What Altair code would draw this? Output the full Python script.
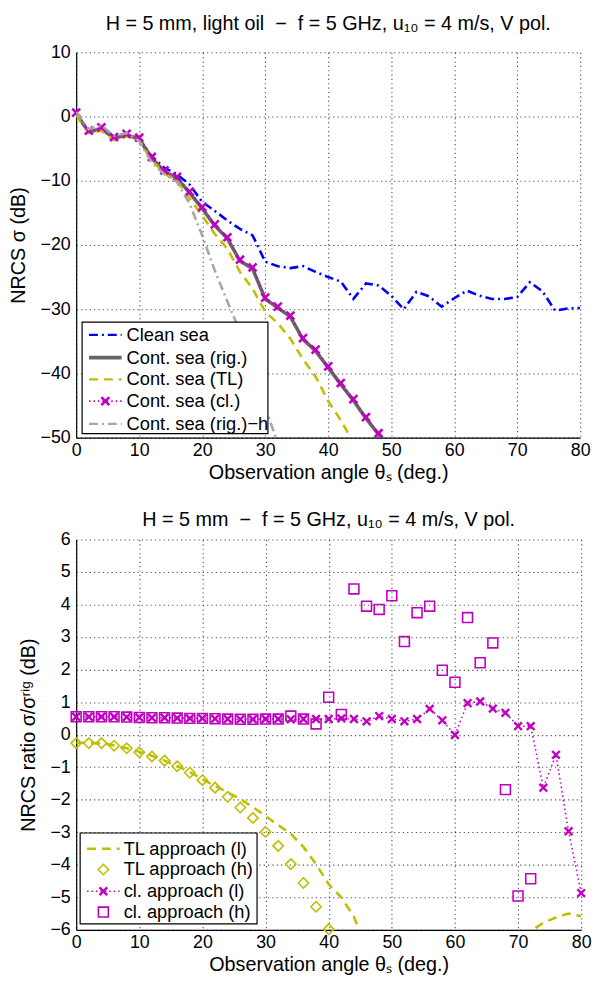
import altair as alt
import pandas as pd

FONT = "Liberation Sans"

# ---------------- data: top panel (NRCS, dB) ----------------
angles_clean = list(range(0, 82, 2))
clean_sea = [0.5, -2.3, -2.0, -3.3, -2.8, -3.5, -6.2, -8.0, -9.0, -10.6, -13.3,
             -14.7, -16.2, -17.5, -18.5, -22.6, -23.3, -23.6, -23.3, -24.2, -25.0,
             -25.7, -28.4, -26.0, -26.3, -27.9, -30.0, -27.3, -28.0, -29.6, -28.3,
             -27.1, -27.9, -28.4, -28.4, -28.1, -25.8, -27.2, -30.2, -29.9, -29.8]

angles_cont = list(range(0, 52, 2))
cont_rig = [0.4, -2.4, -1.9, -3.4, -2.9, -3.5, -6.5, -8.6, -9.6, -11.9, -14.3,
            -17.0, -19.0, -22.5, -23.7, -28.4, -29.8, -31.2, -34.7, -36.5, -39.1,
            -41.7, -44.2, -47.0, -49.5, -52.7]
cont_cl = [0.6, -2.2, -1.7, -3.2, -2.7, -3.3, -6.3, -8.4, -9.4, -11.7, -14.1,
           -16.8, -18.8, -22.3, -23.5, -28.2, -29.6, -31.0, -34.5, -36.3, -38.9,
           -41.5, -44.0, -46.8, -49.3, -52.5]

angles_tl = list(range(0, 46, 2))
cont_tl = [0.2, -2.6, -2.2, -3.7, -3.1, -3.8, -6.8, -8.9, -10.0, -12.8, -15.4,
           -18.3, -20.6, -24.2, -26.8, -30.4, -32.2, -34.6, -37.8, -40.5, -44.3,
           -47.3, -50.8]

angles_righ = list(range(0, 34, 2))
cont_rig_h = [0.7, -2.0, -1.4, -3.0, -2.6, -3.8, -7.2, -9.0, -10.2, -13.6, -18.5,
              -24.0, -28.8, -33.5, -39.3, -45.3, -50.8]

# ---------------- data: bottom panel (ratio, dB) ----------------
angles_bot = list(range(0, 82, 2))
tl_l = [-0.25, -0.26, -0.27, -0.33, -0.42, -0.53, -0.65, -0.80, -0.96, -1.15, -1.37,
        -1.58, -1.78, -1.98, -2.23, -2.50, -2.78, -3.05, -3.45, -3.98, -4.60,
        -5.00, -5.60, -6.60, -7.50, -8.30, -9.00, -9.50, -10.0, -10.3, -10.5,
        -10.4, -10.1, -9.5, -8.5, -7.3, -6.05, -5.78, -5.62, -5.50, -5.58]
cl_l = [0.55, 0.55, 0.55, 0.55, 0.54, 0.53, 0.52, 0.52, 0.51, 0.50, 0.50,
        0.49, 0.48, 0.47, 0.47, 0.48, 0.48, 0.47, 0.48, 0.48, 0.48,
        0.50, 0.48, 0.41, 0.57, 0.48, 0.41, 0.48, 0.79, 0.44, -0.01,
        0.97, 1.02, 0.80, 0.67, 0.26, 0.26, -1.63, -0.62, -2.97, -4.87]

angles_tl_h = list(range(0, 42, 2))
tl_h = [-0.26, -0.26, -0.26, -0.34, -0.42, -0.54, -0.67, -0.80, -0.97, -1.17, -1.40,
        -1.63, -1.91, -2.24, -2.56, -2.99, -3.42, -3.98, -4.56, -5.29, -5.98]

angles_cl_h = list(range(0, 74, 2))
cl_h = [0.55, 0.55, 0.55, 0.55, 0.54, 0.53, 0.52, 0.52, 0.51, 0.50, 0.50,
        0.49, 0.48, 0.47, 0.47, 0.48, 0.48, 0.57, 0.48, 0.33, 1.15,
        0.62, 4.48, 3.95, 3.85, 4.27, 2.86, 3.75, 3.95, 1.98, 1.61,
        3.60, 2.21, 2.82, -1.69, -4.96, -4.43]

# ---------------- styles ----------------
BLUE = "#0000ff"
GRAY = "#666666"
YELLOW = "#bfbf00"
MAGENTA = "#c000c0"
LGRAY = "#a6a6a6"
XSHAPE = "M-1,-1L1,1M-1,1L1,-1"

DASHDOT = [9, 4, 2, 4]
DASH = [9, 6]
DOT = [1.5, 3]


def df(xs, ys):
    return pd.DataFrame({"angle": xs, "val": ys})


def xaxis():
    return alt.Axis(title="Observation angle θₛ (deg.)", values=list(range(0, 81, 10)),
                    format="d", labelPadding=4, titlePadding=3)


def base_enc(ydom, ytitle, yvals):
    x = alt.X("angle:Q", scale=alt.Scale(domain=[0, 80], nice=False, zero=False),
              axis=xaxis())
    y = alt.Y("val:Q", scale=alt.Scale(domain=ydom, nice=False, zero=False),
              axis=alt.Axis(title=ytitle, values=yvals, format="d",
                            labelPadding=6, titlePadding=12))
    return x, y


one = pd.DataFrame({"k": [0]})


def leg_box(x1, x2, y1, y2):
    return alt.Chart(one).mark_rect(fill="white", stroke="black", strokeWidth=1.2).encode(
        x=alt.value(x1), x2=alt.value(x2), y=alt.value(y1), y2=alt.value(y2))


def leg_line(x1, x2, y, color, dash, width):
    kw = dict(color=color, strokeWidth=width)
    if dash:
        kw["strokeDash"] = dash
    return alt.Chart(one).mark_rule(**kw).encode(
        x=alt.value(x1), x2=alt.value(x2), y=alt.value(y))


def leg_point(x, y, shape, color, size, width):
    return alt.Chart(one).mark_point(shape=shape, color=color, size=size, filled=False,
                                     strokeWidth=width, opacity=1).encode(
        x=alt.value(x), y=alt.value(y))


def leg_text(x, y, label):
    return alt.Chart(one).mark_text(align="left", baseline="middle", font=FONT,
                                    fontSize=18.5, color="black").encode(
        x=alt.value(x), y=alt.value(y), text=alt.value(label))


# ---------------- top panel ----------------
xt, yt = base_enc([-50, 10], "NRCS σ (dB)", list(range(-50, 11, 10)))

l_clean = alt.Chart(df(angles_clean, clean_sea)).mark_line(
    color=BLUE, strokeWidth=2.6, strokeDash=DASHDOT, clip=True).encode(x=xt, y=yt)
l_rig = alt.Chart(df(angles_cont, cont_rig)).mark_line(
    color=GRAY, strokeWidth=3.6, clip=True).encode(x=xt, y=yt)
l_tl = alt.Chart(df(angles_tl, cont_tl)).mark_line(
    color=YELLOW, strokeWidth=2.6, strokeDash=DASH, clip=True).encode(x=xt, y=yt)
l_cl = alt.Chart(df(angles_cont, cont_cl)).mark_line(
    color=MAGENTA, strokeWidth=1.6, strokeDash=DOT, clip=True).encode(x=xt, y=yt)
p_cl = alt.Chart(df(angles_cont, cont_cl)).transform_filter("datum.val >= -50").mark_point(
    shape=XSHAPE, color=MAGENTA, size=64, filled=False, strokeWidth=2.6, opacity=1).encode(x=xt, y=yt)
l_righ = alt.Chart(df(angles_righ, cont_rig_h)).mark_line(
    color=LGRAY, strokeWidth=2.6, strokeDash=DASHDOT, clip=True).encode(x=xt, y=yt)

ty = [286, 309, 331, 353, 376]
top_legend = [
    leg_box(6, 194, 273, 386),
    leg_line(13, 46, ty[0], BLUE, DASHDOT, 2.2), leg_text(51, ty[0], "Clean sea"),
    leg_line(13, 46, ty[1], GRAY, None, 3.6), leg_text(51, ty[1], "Cont. sea (rig.)"),
    leg_line(13, 46, ty[2], YELLOW, DASH, 2.4), leg_text(51, ty[2], "Cont. sea (TL)"),
    leg_line(13, 46, ty[3], MAGENTA, DOT, 1.6), leg_point(29.5, ty[3], XSHAPE, MAGENTA, 64, 2.6),
    leg_text(51, ty[3], "Cont. sea (cl.)"),
    leg_line(13, 46, ty[4], LGRAY, DASHDOT, 2.2), leg_text(51, ty[4], "Cont. sea (rig.)−h"),
]

top = alt.layer(l_clean, l_rig, l_tl, l_cl, p_cl, l_righ, *top_legend).properties(
    width=510, height=390,
    title=alt.TitleParams(
        text="H = 5 mm, light oil\u00a0\u00a0−\u00a0\u00a0f = 5 GHz, u₁₀ = 4 m/s, V pol.",
        fontSize=20, font=FONT, fontWeight="normal", color="black", anchor="middle",
        offset=10))

# ---------------- bottom panel ----------------
xb, yb = base_enc([-6, 6], "NRCS ratio σ/σʳⁱᵍ (dB)", list(range(-6, 7, 1)))

b_tl = alt.Chart(df(angles_bot, tl_l)).mark_line(
    color=YELLOW, strokeWidth=2.6, strokeDash=DASH, clip=True).encode(x=xb, y=yb)
b_tlh = alt.Chart(df(angles_tl_h, tl_h)).mark_point(
    shape="diamond", color=YELLOW, size=110, filled=False, strokeWidth=1.6, opacity=1).encode(x=xb, y=yb)
b_cl = alt.Chart(df(angles_bot, cl_l)).mark_line(
    color=MAGENTA, strokeWidth=1.6, strokeDash=DOT, clip=True).encode(x=xb, y=yb)
b_clx = alt.Chart(df(angles_bot, cl_l)).mark_point(
    shape=XSHAPE, color=MAGENTA, size=60, filled=False, strokeWidth=2.4, opacity=1).encode(x=xb, y=yb)
b_clh = alt.Chart(df(angles_cl_h, cl_h)).mark_point(
    shape="square", color=MAGENTA, size=100, filled=False, strokeWidth=1.6, opacity=1).encode(x=xb, y=yb)

by = [313, 334, 356, 377]
bot_legend = [
    leg_box(4, 183, 297, 389),
    leg_line(11, 44, by[0], YELLOW, DASH, 2.4), leg_text(48, by[0], "TL approach (l)"),
    leg_point(27.5, by[1], "diamond", YELLOW, 110, 1.6), leg_text(48, by[1], "TL approach (h)"),
    leg_line(11, 44, by[2], MAGENTA, DOT, 1.6), leg_point(27.5, by[2], XSHAPE, MAGENTA, 60, 2.4),
    leg_text(48, by[2], "cl. approach (l)"),
    leg_point(27.5, by[3], "square", MAGENTA, 100, 1.6), leg_text(48, by[3], "cl. approach (h)"),
]

bottom = alt.layer(b_tl, b_tlh, b_cl, b_clx, b_clh, *bot_legend).properties(
    width=511, height=395,
    title=alt.TitleParams(
        text="H = 5 mm\u00a0\u00a0−\u00a0\u00a0f = 5 GHz, u₁₀ = 4 m/s, V pol.",
        fontSize=20, font=FONT, fontWeight="normal", color="black", anchor="middle",
        offset=1))

chart = alt.vconcat(
    top, bottom, spacing=28,
    padding={"left": 0, "top": 0, "right": 5, "bottom": 0},
).configure_view(stroke=None).configure_axis(
    labelFont=FONT, titleFont=FONT, labelFontSize=18, titleFontSize=20,
    labelColor="black", titleColor="black", titleFontWeight="normal",
    domainColor="black", domainWidth=1.2, ticks=False,
    grid=True, gridColor="#000000", gridDash=[1.2, 3.2], gridOpacity=0.7, gridWidth=1.1,
    labelFlush=False,
)

chart.save("out.html", embed_options={"renderer": "svg", "actions": False})
